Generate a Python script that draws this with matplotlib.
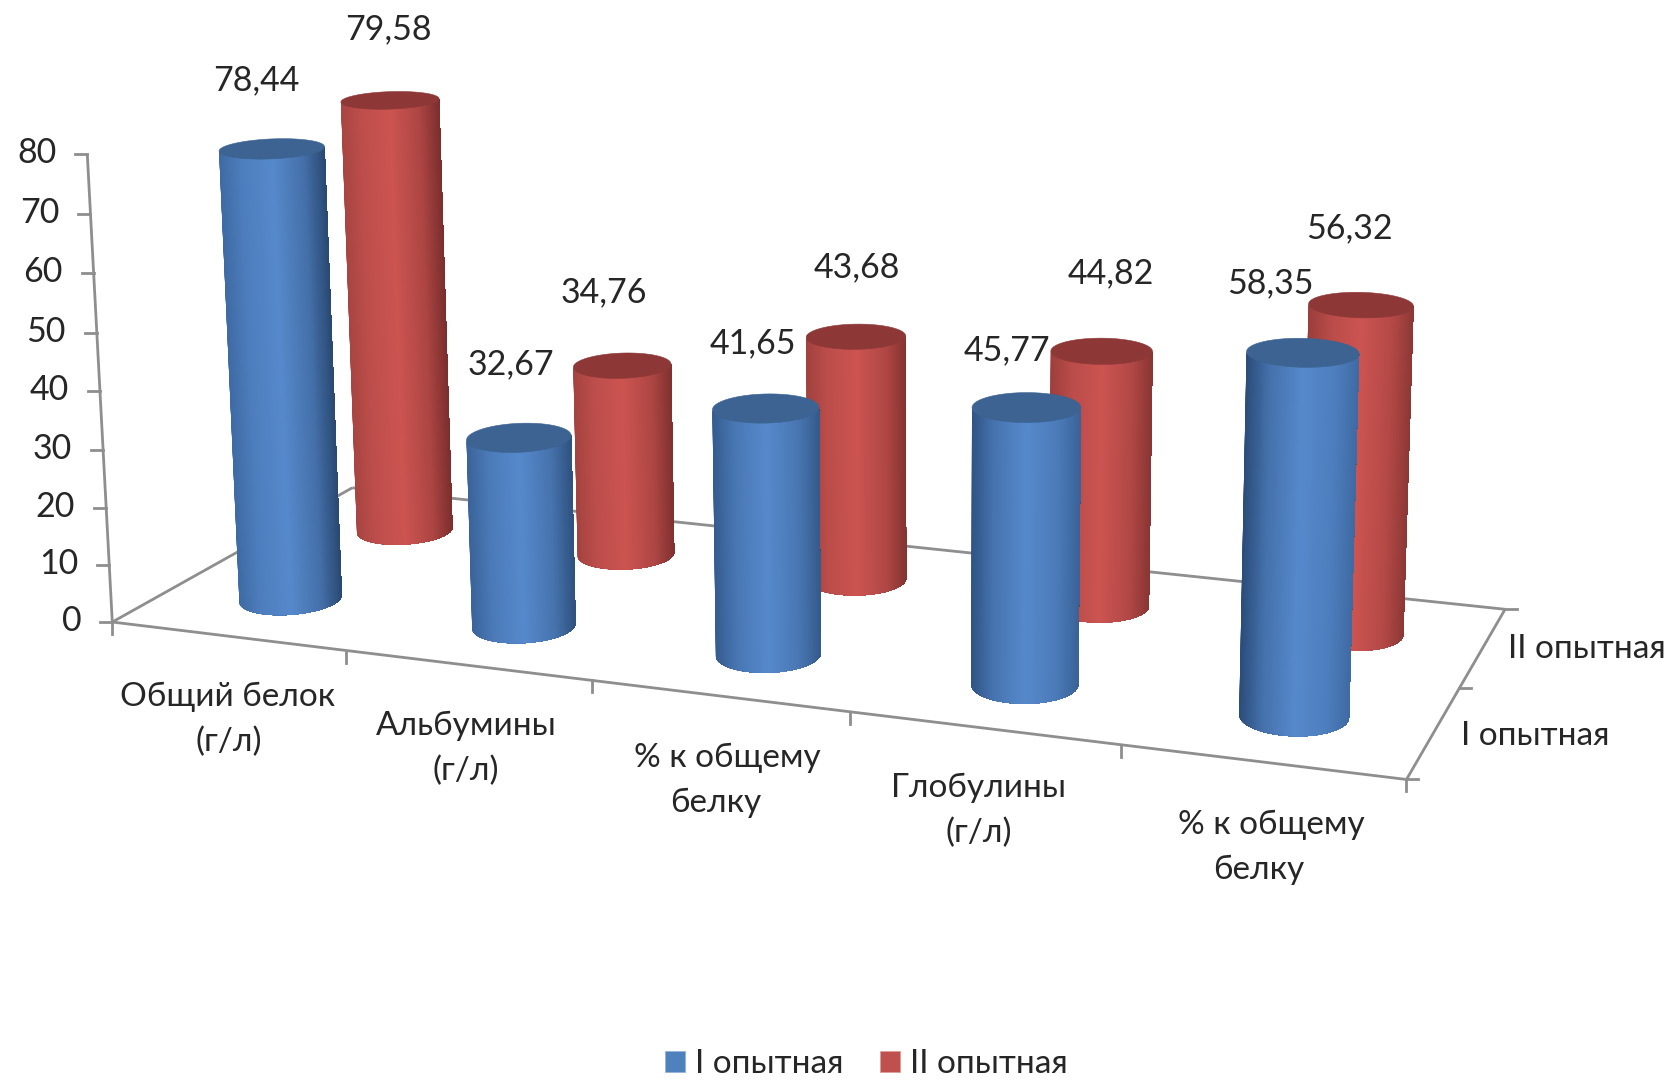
# -*- coding: utf-8 -*-
import numpy as np
import matplotlib
matplotlib.use("Agg")
import matplotlib.pyplot as plt
from matplotlib.colors import LinearSegmentedColormap, to_rgb
from matplotlib.patches import Patch, Polygon

plt.rcParams['font.family'] = ['Lato', 'Open Sans', 'DejaVu Sans']

categories = ["Общий белок\n(г/л)", "Альбумины\n(г/л)", "% к общему\nбелку",
              "Глобулины\n(г/л)", "% к общему\nбелку"]
series_names = ["I опытная", "II опытная"]
values_1 = [78.44, 32.67, 41.65, 45.77, 58.35]
values_2 = [79.58, 34.76, 43.68, 44.82, 56.32]
y_ticks = [0, 10, 20, 30, 40, 50, 60, 70, 80]

# camera: world (category, depth, value) -> canvas pixels, solved from anchor points
floor_world = [(0, 0, 0), (5, 0, 0), (5, 2, 0), (0, 2, 0), (0, 0, 80)]
floor_px = [(114, 621), (1405, 781), (1499, 607), (352, 489), (88, 152)]
foot_px_1 = [(288, 597), (521, 627), (765, 655), (1022, 686), (1293, 715)]
foot_px_2 = [(404, 530), (623, 552), (860, 579), (1111, 606), (1375, 633)]
head_px_1 = [(271, 151), (518, 439), (765, 409), (1025, 407), (1305, 352)]
head_px_2 = [(391, 100), (621, 366), (855, 339), (1099, 354), (1362, 304)]


def solve_camera():
    # frame corners count three times so the axes stay put
    world = list(floor_world) * 3
    px = list(floor_px) * 3
    for i in range(5):
        world += [(i + .5, .5, 0), (i + .5, 1.5, 0), (i + .5, .5, values_1[i]), (i + .5, 1.5, values_2[i])]
        px += [foot_px_1[i], foot_px_2[i], head_px_1[i], head_px_2[i]]
    rows, rhs = [], []
    for (u, v, h), (x, y) in zip(world, px):
        rows.append([u, v, h, 1, 0, 0, 0, 0, -x * u, -x * v, -x * h])
        rhs.append(x)
        rows.append([0, 0, 0, 0, u, v, h, 1, -y * u, -y * v, -y * h])
        rhs.append(y)
    p = np.linalg.lstsq(np.array(rows, float), np.array(rhs, float), rcond=None)[0]
    return np.append(p, 1).reshape(3, 4)


cam = solve_camera()


def project(u, v, h):
    u, v, h = np.broadcast_arrays(u, v, h)
    w = cam[2, 0] * u + cam[2, 1] * v + cam[2, 2] * h + cam[2, 3]
    x = (cam[0, 0] * u + cam[0, 1] * v + cam[0, 2] * h + cam[0, 3]) / w
    y = (cam[1, 0] * u + cam[1, 1] * v + cam[1, 2] * h + cam[1, 3]) / w
    return np.column_stack([x, y])


GRAY = "#8e8e8e"
TEXT = "#262626"
RU, RV = 0.193, 0.215  # cylinder radius in category / depth units
N = 360
th = np.linspace(0, 2 * np.pi, N, endpoint=False)


def mix(a, b, t):
    a, b = np.array(to_rgb(a)), np.array(to_rgb(b))
    return tuple(a + (b - a) * t)


def side_cmap(left, mid, right):
    return LinearSegmentedColormap.from_list("side", [
        (0, left), (.2, mix(left, mid, .6)), (.5, mid), (.8, mix(right, mid, .6)), (1, right)])


def cylinder(ax, i, s, value, cmap, top_color, z):
    u, v = i + .5, s + .5
    bot = project(u + RU * np.cos(th), v + RV * np.sin(th), 0)
    top = project(u + RU * np.cos(th), v + RV * np.sin(th), value)
    avg = (bot + top) / 2
    il, ir = int(np.argmin(avg[:, 0])), int(np.argmax(avg[:, 0]))
    idx = [(il + k) % N for k in range((ir - il) % N + 1)]
    xl, xr = avg[il, 0], avg[ir, 0]
    # each band runs from its own left edge to the far right, later bands paint over,
    # so no background shows between neighbours
    for k, a in enumerate(idx[:-1]):
        rest = idx[k:]
        outline = np.vstack([bot[rest], top[rest][::-1]])
        col = cmap((avg[a, 0] - xl) / (xr - xl))
        ax.add_patch(Polygon(outline, closed=True, facecolor=col, edgecolor="none", zorder=z))
    ax.add_patch(Polygon(top, closed=True, facecolor=top_color, edgecolor=top_color, lw=.4, zorder=z + .1))


fig = plt.figure(figsize=(16.75, 10.8), dpi=100)
ax = fig.add_axes([0, 0, 1, 1])
ax.set_xlim(0, 1675)
ax.set_ylim(1080, 0)
ax.axis("off")

# axis frame
A, B, C, D = project(0, 0, 0)[0], project(5, 0, 0)[0], project(5, 2, 0)[0], project(0, 2, 0)[0]
for p, q in [(A, B), (B, C), (C, D), (D, A), (A, project(0, 0, 80)[0])]:
    ax.plot([p[0], q[0]], [p[1], q[1]], color=GRAY, lw=2, zorder=1, solid_capstyle="butt")

# value axis
for t in y_ticks:
    x, y = project(0, 0, t)[0]
    ax.plot([x - 12, x], [y, y], color=GRAY, lw=2, zorder=1)
    ax.text(x - 31, y - 1, str(t), ha="right", va="center", fontsize=24.5, color=TEXT)

# category ticks and labels
for i in range(6):
    x, y = project(i, 0, 0)[0]
    ax.plot([x, x], [y, y + 12], color=GRAY, lw=2, zorder=1)
cat_line_y = [(697, 742), (726, 771), (758, 803), (788, 833), (825, 870)]
cat_line_x = [(228, 229), (466, 466), (727, 716), (979, 979), (1271, 1259)]
for i, name in enumerate(categories):
    for line, x, y in zip(name.split("\n"), cat_line_x[i], cat_line_y[i]):
        ax.text(x, y, line, ha="center", va="center", fontsize=24, color=TEXT)

# depth axis ticks and labels
for s in range(3):
    x, y = project(5, s, 0)[0]
    ax.plot([x, x + 12], [y, y], color=GRAY, lw=2, zorder=1)
ax.text(1461, 736, series_names[0], ha="left", va="center", fontsize=24, color=TEXT)
ax.text(1508, 649, series_names[1], ha="left", va="center", fontsize=24, color=TEXT)

# cylinders, back row first
off_1 = [(-16, -68), (-8, -73), (-13, -65), (-20, -57), (-32, -69)]
off_2 = [(-2, -71), (-18, -73), (1, -69), (9, -78), (-12, -77)]
for s, vals in [(1, values_2), (0, values_1)]:
    for i, val in enumerate(vals):
        k = i / 4
        if s == 0:
            cmap = side_cmap(mix("#3f6ba4", "#2b4d7a", k), "#5689cc", mix("#2a4a74", "#3f6ba4", k))
            top_c = "#3c6391"
        else:
            cmap = side_cmap(mix("#a84542", "#9a3e3c", k), "#cc5451", mix("#7c2f2e", "#8e3836", k))
            top_c = "#8d3837"
        cylinder(ax, i, s, val, cmap, top_c, 3 + (1 - s) * 10 + i)

for vals, s, off in [(values_1, 0, off_1), (values_2, 1, off_2)]:
    for i, val in enumerate(vals):
        x, y = project(i + .5, s + .5, val)[0]
        ax.text(x + off[i][0], y + off[i][1], f"{val:.2f}".replace(".", ","),
                ha="center", va="center", fontsize=24.5, color=TEXT, zorder=30)

handles = [Patch(facecolor="#4f81bd", edgecolor="#8fb0d8", lw=.5),
           Patch(facecolor="#c0504d", edgecolor="#dc9a98", lw=.5)]
ax.legend(handles, series_names, loc="center", bbox_to_anchor=(866, 1064), bbox_transform=ax.transData,
          ncol=2, frameon=False, fontsize=24, handlelength=.6, handleheight=.6, handletextpad=.3,
          columnspacing=1.1, labelcolor=TEXT)

fig.savefig("out.png", dpi=100)
